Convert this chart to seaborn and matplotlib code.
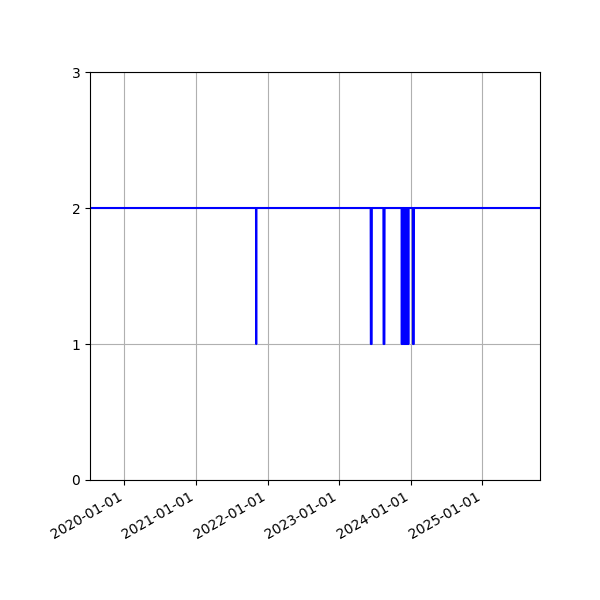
import matplotlib
matplotlib.use("Agg")
import matplotlib.pyplot as plt
import matplotlib.dates as mdates
import pandas as pd
import seaborn as sns

# change points of the series (value holds between listed points)
dates = [
    "2019-07-10",
    "2021-11-03", "2021-11-04", "2021-11-05",
    "2023-06-11", "2023-06-12", "2023-06-16", "2023-06-17",
    "2023-08-15", "2023-08-16", "2023-08-20", "2023-08-21",
    "2023-11-16", "2023-11-17", "2023-11-18",
    "2023-11-21", "2023-11-22", "2023-11-23",
    "2023-11-29", "2023-11-30", "2023-12-01",
    "2023-12-04", "2023-12-05", "2023-12-06",
    "2023-12-09", "2023-12-10", "2023-12-11",
    "2023-12-14", "2023-12-15", "2023-12-16",
    "2023-12-19", "2023-12-20", "2023-12-21",
    "2024-01-12", "2024-01-13", "2024-01-17", "2024-01-18",
    "2025-10-22",
]
values = [
    2,
    2, 1, 2,
    2, 1, 1, 2,
    2, 1, 1, 2,
    2, 1, 2,
    2, 1, 2,
    2, 1, 2,
    2, 1, 2,
    2, 1, 2,
    2, 1, 2,
    2, 1, 2,
    2, 1, 1, 2,
    2,
]
y_ticks = [0, 1, 2, 3]

df = pd.DataFrame({"date": pd.to_datetime(dates), "value": values})

fig, ax = plt.subplots(figsize=(6, 6), dpi=100)
sns.lineplot(data=df, x="date", y="value", ax=ax, color="blue",
             linewidth=1.5, estimator=None, sort=False)

ax.set_xlim(df["date"].min(), df["date"].max())
ax.set_ylim(0, 3)
ax.set_yticks(y_ticks)
ax.xaxis.set_major_locator(mdates.YearLocator())
ax.xaxis.set_major_formatter(mdates.DateFormatter("%Y-%m-%d"))
ax.grid(True, color="#b0b0b0", linewidth=0.8)
ax.set_axisbelow(True)
ax.set_xlabel("")
ax.set_ylabel("")
for lbl in ax.get_xticklabels():
    lbl.set_rotation(30)
    lbl.set_ha("right")
fig.subplots_adjust(left=0.15, right=0.9, bottom=0.2, top=0.88)
fig.savefig("out.png", dpi=100)
